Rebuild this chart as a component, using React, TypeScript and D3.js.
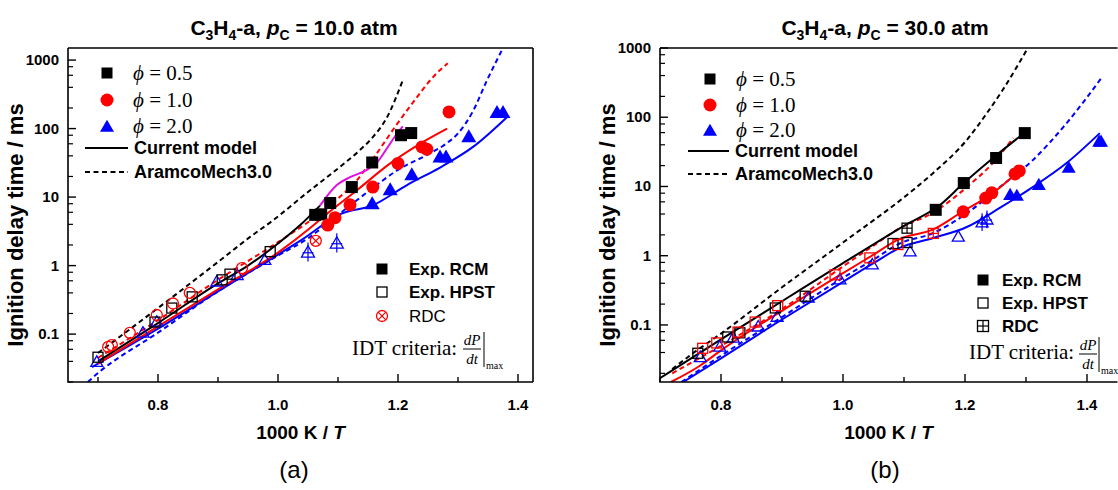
import React from 'react';
import * as d3 from 'd3';

type Pt = [number, number];

const SANS = "'Liberation Sans', Arial, Helvetica, sans-serif";
const SERIF = "'Liberation Serif', 'Times New Roman', serif";

const BLACK = '#000000';
const RED = '#ff0000';
const BLUE = '#0000ff';
const MAGENTA = '#e010e0';

// ---------- shared axis labels ----------
const xTickValues = [0.7, 0.8, 0.9, 1.0, 1.1, 1.2, 1.3, 1.4];
const xTickLabels = ['0.8', '1.0', '1.2', '1.4'];
const yTickLabels = ['0.1', '1', '10', '100', '1000'];
const phiLabels = ['0.5', '1.0', '2.0'];

// ---------- Panel (a): pC = 10.0 atm ----------
const aRcm05: Pt[] = [[1.062, 5.5], [1.072, 5.6], [1.087, 8.2], [1.123, 14], [1.157, 32], [1.205, 80], [1.222, 86]];
const aHpst05: Pt[] = [[0.70, 0.046], [0.795, 0.15], [0.823, 0.24], [0.857, 0.35], [0.907, 0.62], [0.92, 0.75], [0.987, 1.6]];
const aRcm10: Pt[] = [[1.083, 3.9], [1.095, 5.0], [1.12, 7.7], [1.158, 14], [1.2, 31], [1.24, 54], [1.248, 50], [1.285, 175]];
const aHpst10: Pt[] = [[0.717, 0.065], [0.723, 0.069], [0.753, 0.104], [0.798, 0.19], [0.825, 0.28], [0.853, 0.40], [0.94, 0.92]];
const aRdc10: Pt[] = [[1.063, 2.3]];
const aRcm20: Pt[] = [[1.157, 7.9], [1.187, 12.7], [1.223, 21], [1.27, 38], [1.28, 38], [1.318, 75], [1.365, 170], [1.375, 170]];
const aHpst20: Pt[] = [[0.698, 0.039], [0.775, 0.104], [0.798, 0.15], [0.898, 0.58], [0.932, 0.72], [0.978, 1.2]];
const aRdc20: Pt[] = [[1.05, 1.55], [1.098, 2.1]];

const aCur05: Pt[] = [[0.70, 0.040], [0.80, 0.145], [0.90, 0.55], [0.95, 1.0], [1.00, 2.1], [1.037, 3.9], [1.07, 7.5]];
const aMag05: Pt[] = [[1.07, 7.5], [1.098, 15], [1.12, 19.5], [1.148, 25], [1.165, 32], [1.182, 52], [1.198, 84], [1.208, 108]];
const aAr05: Pt[] = [[0.70, 0.053], [0.80, 0.24], [0.90, 1.13], [0.953, 2.6], [0.992, 4.6], [1.048, 11.5], [1.103, 27.5], [1.137, 49], [1.158, 75], [1.182, 148], [1.208, 510]];
const aCur10: Pt[] = [[0.70, 0.037], [0.80, 0.13], [0.90, 0.45], [1.00, 1.55], [1.053, 3.5], [1.075, 5.1], [1.132, 12.7], [1.187, 31], [1.242, 64], [1.282, 100]];
const aAr10: Pt[] = [[0.70, 0.045], [0.80, 0.16], [0.90, 0.62], [1.00, 2.2], [1.05, 4.3], [1.10, 9.5], [1.13, 17], [1.158, 36], [1.198, 115], [1.232, 290], [1.258, 560], [1.283, 900]];
const aCur20: Pt[] = [[0.69, 0.033], [0.80, 0.12], [0.90, 0.42], [1.00, 1.45], [1.04, 2.4], [1.103, 5.6], [1.158, 7.6], [1.215, 15], [1.27, 27], [1.325, 54], [1.382, 148]];
const aAr20: Pt[] = [[0.683, 0.02], [0.70, 0.027], [0.80, 0.105], [0.90, 0.42], [1.00, 1.4], [1.05, 2.5], [1.10, 5.5], [1.15, 12], [1.20, 25], [1.25, 42], [1.28, 60], [1.30, 85], [1.325, 180], [1.348, 500], [1.375, 1500]];

// ---------- Panel (b): pC = 30.0 atm ----------
const bRcm05: Pt[] = [[1.152, 4.6], [1.198, 11.2], [1.251, 25.8], [1.298, 59]];
const bHpst05: Pt[] = [[0.762, 0.039], [0.811, 0.067], [0.831, 0.077], [0.889, 0.176], [0.938, 0.26], [1.082, 1.5], [1.105, 1.55]];
const bRdc05: Pt[] = [[1.105, 2.5]];
const bRcm10: Pt[] = [[1.197, 4.3], [1.234, 6.8], [1.244, 8.1], [1.282, 15.2], [1.289, 16.8]];
const bHpst10: Pt[] = [[0.77, 0.046], [0.793, 0.055], [0.828, 0.079], [0.856, 0.11], [0.893, 0.19], [0.987, 0.53], [1.044, 0.93], [1.09, 1.45]];
const bRdc10: Pt[] = [[1.148, 2.1]];
const bRcm20: Pt[] = [[1.274, 7.5], [1.285, 7.3], [1.321, 10.5], [1.37, 18.5], [1.42, 44], [1.423, 44]];
const bHpst20: Pt[] = [[0.766, 0.034], [0.798, 0.048], [0.82, 0.065], [0.861, 0.094], [0.892, 0.13], [0.943, 0.245], [0.995, 0.45], [1.048, 0.74], [1.11, 1.14], [1.189, 1.87]];
const bRdc20: Pt[] = [[1.228, 3.0], [1.236, 3.3]];

const bCur05: Pt[] = [[0.70, 0.017], [0.733, 0.026], [0.80, 0.062], [0.90, 0.22], [1.00, 0.78], [1.10, 2.7], [1.159, 5.4], [1.197, 11], [1.246, 25.8], [1.293, 55.5]];
const bAr05: Pt[] = [[0.72, 0.023], [0.754, 0.039], [0.80, 0.075], [0.90, 0.35], [1.00, 1.55], [1.115, 8.9], [1.148, 15.7], [1.203, 47], [1.236, 115], [1.262, 249], [1.285, 534], [1.303, 1000]];
const bCur10: Pt[] = [[0.718, 0.015], [0.766, 0.026], [0.80, 0.043], [0.90, 0.16], [1.00, 0.56], [1.044, 0.96], [1.093, 1.75], [1.148, 2.4], [1.195, 4.3], [1.241, 7.5], [1.285, 15.7]];
const bAr10: Pt[] = [[0.72, 0.02], [0.80, 0.05], [0.90, 0.17], [1.00, 0.7], [1.05, 1.4], [1.093, 2.5], [1.148, 4.2], [1.203, 9.8], [1.246, 22], [1.279, 50]];
const bCur20: Pt[] = [[0.738, 0.015], [0.80, 0.033], [0.90, 0.12], [1.00, 0.42], [1.05, 0.78], [1.093, 1.3], [1.148, 1.8], [1.203, 2.6], [1.257, 4.9], [1.311, 9.8], [1.367, 22], [1.421, 59]];
const bAr20: Pt[] = [[0.735, 0.015], [0.80, 0.036], [0.90, 0.13], [1.00, 0.48], [1.05, 0.88], [1.093, 1.5], [1.148, 2.13], [1.203, 4.1], [1.257, 9.8], [1.311, 24], [1.367, 83], [1.425, 383]];

type Shape = 'sq' | 'ci' | 'tr';
type Style = 'fill' | 'open' | 'rdc';

interface MarkSeries { data: Pt[]; color: string; shape: Shape; style: Style; size: number; }
interface LineSeries { data: Pt[]; color: string; dashed: boolean; }

function Marker({ x, y, shape, style, color, size }: { x: number; y: number; shape: Shape; style: Style; color: string; size: number }) {
  const s = size;
  const fill = style === 'fill' ? color : 'none';
  const sw = style === 'fill' ? 0 : 1.3;
  const parts: React.ReactNode[] = [];
  if (shape === 'sq') {
    parts.push(<rect key="s" x={x - s / 2} y={y - s / 2} width={s} height={s} fill={fill} stroke={color} strokeWidth={sw} />);
    if (style === 'rdc') {
      parts.push(<line key="v" x1={x} x2={x} y1={y - s / 2} y2={y + s / 2} stroke={color} strokeWidth={1.2} />);
      parts.push(<line key="h" x1={x - s / 2} x2={x + s / 2} y1={y} y2={y} stroke={color} strokeWidth={1.2} />);
    }
  } else if (shape === 'ci') {
    parts.push(<circle key="c" cx={x} cy={y} r={s / 2} fill={fill} stroke={color} strokeWidth={sw} />);
    if (style === 'rdc') {
      const d = s / 2 * 0.7;
      parts.push(<line key="a" x1={x - d} x2={x + d} y1={y - d} y2={y + d} stroke={color} strokeWidth={1.2} />);
      parts.push(<line key="b" x1={x - d} x2={x + d} y1={y + d} y2={y - d} stroke={color} strokeWidth={1.2} />);
    }
  } else {
    const h = s * 0.87;
    const pts = `${x},${y - h * 0.6} ${x - s / 2},${y + h * 0.4} ${x + s / 2},${y + h * 0.4}`;
    parts.push(<polygon key="t" points={pts} fill={fill} stroke={color} strokeWidth={sw} strokeLinejoin="miter" />);
    if (style === 'rdc') {
      parts.push(<line key="v" x1={x} x2={x} y1={y - h * 0.9} y2={y + h * 0.8} stroke={color} strokeWidth={1.2} />);
      parts.push(<line key="h" x1={x - s * 0.42} x2={x + s * 0.42} y1={y + h * 0.02} y2={y + h * 0.02} stroke={color} strokeWidth={1.2} />);
    }
  }
  return <g>{parts}</g>;
}

interface PanelProps {
  id: string;
  x0: number; x1: number; y0: number; y1: number;
  xDomain: [number, number]; yDomain: [number, number];
  title: string; sub: string; titleX: number;
  lines: LineSeries[];
  marks: MarkSeries[];
  legend1: { sx: number; ys: number[]; tx: number; lx0: number; lx1: number; ly: number[] };
  legend2: { sx: number; ys: number[]; tx: number; rdcBold: boolean; rdc: { shape: Shape; color: string } };
  idt: { x: number; y: number; fx: number; bx: number; fy: number };
  drawRight: boolean;
}

function Panel(p: PanelProps) {
  const xs = d3.scaleLinear().domain(p.xDomain).range([p.x0, p.x1]);
  const ys = d3.scaleLog().domain(p.yDomain).range([p.y1, p.y0]);
  const line = d3.line<Pt>().x(d => xs(d[0])).y(d => ys(d[1])).curve(d3.curveMonotoneX);
  const cx = (p.x0 + Math.min(p.x1, 1117)) / 2;
  const majorY = [0.1, 1, 10, 100, 1000];
  const minorY: number[] = [];
  for (let dec = 0.01; dec <= 1000; dec *= 10) {
    for (const m of [2, 4, 6, 8]) {
      const v = dec * m;
      if (v >= p.yDomain[0] && v <= p.yDomain[1]) minorY.push(v);
    }
  }
  const fw = Math.min(p.x1, 1120) - p.x0;
  return (
    <g>
      <defs>
        <clipPath id={`clip-${p.id}`}>
          <rect x={p.x0} y={p.y0} width={fw} height={p.y1 - p.y0} />
        </clipPath>
      </defs>
      {/* title */}
      <text x={p.titleX} y={35} textAnchor="middle" fontFamily={SANS} fontWeight="bold" fontSize={21}>
        C<tspan dy={5} fontSize={14}>3</tspan><tspan dy={-5}>H</tspan><tspan dy={5} fontSize={14}>4</tspan><tspan dy={-5}>-a, </tspan><tspan fontStyle="italic">p</tspan><tspan dy={5} fontSize={14}>C</tspan><tspan dy={-5}>{` = ${p.title} atm`}</tspan>
      </text>
      {/* lines */}
      <g clipPath={`url(#clip-${p.id})`}>
        {p.lines.map((l, i) => (
          <path key={i} d={line(l.data) || ''} fill="none" stroke={l.color} strokeWidth={2} strokeDasharray={l.dashed ? '5,3.5' : undefined} />
        ))}
      </g>
      {/* markers */}
      {p.marks.map((m, i) => (
        <g key={i}>
          {m.data.map((d, j) => (
            <Marker key={j} x={xs(d[0])} y={ys(d[1])} shape={m.shape} style={m.style} color={m.color} size={m.size} />
          ))}
        </g>
      ))}
      {/* frame */}
      <path d={`M${p.x0},${p.y0}H${p.x0 + fw}M${p.x0},${p.y0}V${p.y1}H${p.x0 + fw}` + (p.drawRight ? `M${p.x1},${p.y0}V${p.y1}` : '')} fill="none" stroke="#000" strokeWidth={1.6} />
      {/* x ticks */}
      {xTickValues.map((v, i) => {
        const major = xTickLabels.includes(v.toFixed(1));
        return <line key={i} x1={xs(v)} x2={xs(v)} y1={p.y1} y2={p.y1 - (major ? 8 : 5)} stroke="#000" strokeWidth={1.4} />;
      })}
      {xTickLabels.map((t, i) => (
        <text key={i} x={xs(+t)} y={410} textAnchor="middle" fontFamily={SANS} fontWeight="bold" fontSize={15}>{t}</text>
      ))}
      <text x={cx} y={439} textAnchor="middle" fontFamily={SANS} fontWeight="bold" fontSize={19}>
        1000 K / <tspan fontStyle="italic">T</tspan>
      </text>
      <text x={p.titleX} y={478} textAnchor="middle" fontFamily={SANS} fontSize={24}>{p.sub}</text>
      {/* y ticks */}
      {majorY.map((v, i) => (
        <g key={i}>
          <line x1={p.x0} x2={p.x0 + 8} y1={ys(v)} y2={ys(v)} stroke="#000" strokeWidth={1.4} />
          <text x={p.x0 - 9} y={ys(v) + 5} textAnchor="end" fontFamily={SANS} fontWeight="bold" fontSize={15}>{yTickLabels[i]}</text>
        </g>
      ))}
      {minorY.map((v, i) => (
        <line key={i} x1={p.x0} x2={p.x0 + 5} y1={ys(v)} y2={ys(v)} stroke="#000" strokeWidth={1.2} />
      ))}
      <text transform={`translate(${p.x0 - 45},${(p.y0 + p.y1) / 2 + 10}) rotate(-90)`} textAnchor="middle" fontFamily={SANS} fontWeight="bold" fontSize={22}>
        Ignition delay time / ms
      </text>
      {/* legend 1 */}
      <Marker x={p.legend1.sx} y={p.legend1.ys[0]} shape="sq" style="fill" color={BLACK} size={11} />
      <Marker x={p.legend1.sx} y={p.legend1.ys[1]} shape="ci" style="fill" color={RED} size={13} />
      <Marker x={p.legend1.sx} y={p.legend1.ys[2] + 1} shape="tr" style="fill" color={BLUE} size={14} />
      {phiLabels.map((t, i) => (
        <text key={i} x={p.legend1.tx} y={p.legend1.ys[i] + 7} fontFamily={SERIF} fontSize={21}>
          <tspan fontStyle="italic">{'\u03D5'}</tspan>{` = ${t}`}
        </text>
      ))}
      <line x1={p.legend1.lx0} x2={p.legend1.lx1} y1={p.legend1.ly[0]} y2={p.legend1.ly[0]} stroke="#000" strokeWidth={2} />
      <line x1={p.legend1.lx0} x2={p.legend1.lx1} y1={p.legend1.ly[1]} y2={p.legend1.ly[1]} stroke="#000" strokeWidth={2} strokeDasharray="5,3.5" />
      <text x={p.legend1.lx1 + 6} y={p.legend1.ly[0] + 6} fontFamily={SANS} fontWeight="bold" fontSize={18}>Current model</text>
      <text x={p.legend1.lx1 + 6} y={p.legend1.ly[1] + 6} fontFamily={SANS} fontWeight="bold" fontSize={18}>AramcoMech3.0</text>
      {/* legend 2 */}
      <Marker x={p.legend2.sx} y={p.legend2.ys[0]} shape="sq" style="fill" color={BLACK} size={11} />
      <Marker x={p.legend2.sx} y={p.legend2.ys[1]} shape="sq" style="open" color={BLACK} size={10} />
      <Marker x={p.legend2.sx} y={p.legend2.ys[2]} shape={p.legend2.rdc.shape} style="rdc" color={p.legend2.rdc.color} size={11} />
      <text x={p.legend2.tx} y={p.legend2.ys[0] + 6} fontFamily={SANS} fontWeight="bold" fontSize={17}>Exp. RCM</text>
      <text x={p.legend2.tx} y={p.legend2.ys[1] + 6} fontFamily={SANS} fontWeight="bold" fontSize={17}>Exp. HPST</text>
      <text x={p.legend2.tx} y={p.legend2.ys[2] + 6} fontFamily={SANS} fontWeight={p.legend2.rdcBold ? 'bold' : 'normal'} fontSize={17}>RDC</text>
      {/* IDT criteria */}
      <text x={p.idt.x} y={p.idt.y} fontFamily={SERIF} fontSize={21}>IDT criteria:</text>
      <text x={p.idt.fx} y={p.idt.fy - 4} textAnchor="middle" fontFamily={SERIF} fontStyle="italic" fontSize={15}>dP</text>
      <line x1={p.idt.fx - 9} x2={p.idt.fx + 9} y1={p.idt.fy} y2={p.idt.fy} stroke="#000" strokeWidth={1} />
      <text x={p.idt.fx} y={p.idt.fy + 15} textAnchor="middle" fontFamily={SERIF} fontStyle="italic" fontSize={15}>dt</text>
      <line x1={p.idt.bx} x2={p.idt.bx} y1={p.idt.fy - 17} y2={p.idt.fy + 18} stroke="#000" strokeWidth={1} />
      <text x={p.idt.bx + 2} y={p.idt.fy + 20} fontFamily={SERIF} fontSize={10}>max</text>
    </g>
  );
}

export default function App() {
  const panelA: PanelProps = {
    id: 'a', x0: 68, x1: 533, y0: 48, y1: 382,
    xDomain: [0.65, 1.425], yDomain: [0.02, 1500],
    title: '10.0', sub: '(a)', titleX: 294,
    lines: [
      { data: aAr05, color: BLACK, dashed: true },
      { data: aAr10, color: RED, dashed: true },
      { data: aAr20, color: BLUE, dashed: true },
      { data: aCur20, color: BLUE, dashed: false },
      { data: aCur10, color: RED, dashed: false },
      { data: aCur05, color: BLACK, dashed: false },
      { data: aMag05, color: MAGENTA, dashed: false },
    ],
    marks: [
      { data: aHpst20, color: BLUE, shape: 'tr', style: 'open', size: 12 },
      { data: aHpst05, color: BLACK, shape: 'sq', style: 'open', size: 10 },
      { data: aHpst10, color: RED, shape: 'ci', style: 'open', size: 11 },
      { data: aRdc20, color: BLUE, shape: 'tr', style: 'rdc', size: 13 },
      { data: aRdc10, color: RED, shape: 'ci', style: 'rdc', size: 11 },
      { data: aRcm05, color: BLACK, shape: 'sq', style: 'fill', size: 12 },
      { data: aRcm10, color: RED, shape: 'ci', style: 'fill', size: 13 },
      { data: aRcm20, color: BLUE, shape: 'tr', style: 'fill', size: 15 },
    ],
    legend1: { sx: 107, ys: [73, 100, 126], tx: 133, lx0: 85, lx1: 128, ly: [148, 172] },
    legend2: { sx: 382, ys: [269, 292, 316], tx: 409, rdcBold: false, rdc: { shape: 'ci', color: RED } },
    idt: { x: 352, y: 355, fx: 472, bx: 484, fy: 349 },
    drawRight: true,
  };
  const panelB: PanelProps = {
    id: 'b', x0: 660, x1: 1117.5, y0: 48, y1: 382,
    xDomain: [0.7, 1.45], yDomain: [0.015, 1000],
    title: '30.0', sub: '(b)', titleX: 885,
    lines: [
      { data: bAr05, color: BLACK, dashed: true },
      { data: bAr10, color: RED, dashed: true },
      { data: bAr20, color: BLUE, dashed: true },
      { data: bCur20, color: BLUE, dashed: false },
      { data: bCur10, color: RED, dashed: false },
      { data: bCur05, color: BLACK, dashed: false },
    ],
    marks: [
      { data: bHpst20, color: BLUE, shape: 'tr', style: 'open', size: 12 },
      { data: bHpst05, color: BLACK, shape: 'sq', style: 'open', size: 10 },
      { data: bHpst10, color: RED, shape: 'sq', style: 'open', size: 10 },
      { data: bRdc20, color: BLUE, shape: 'tr', style: 'rdc', size: 12 },
      { data: bRdc05, color: BLACK, shape: 'sq', style: 'rdc', size: 10 },
      { data: bRdc10, color: RED, shape: 'sq', style: 'rdc', size: 10 },
      { data: bRcm05, color: BLACK, shape: 'sq', style: 'fill', size: 12 },
      { data: bRcm10, color: RED, shape: 'ci', style: 'fill', size: 13 },
      { data: bRcm20, color: BLUE, shape: 'tr', style: 'fill', size: 14 },
    ],
    legend1: { sx: 710, ys: [79, 105, 130], tx: 736, lx0: 688, lx1: 729, ly: [151, 174] },
    legend2: { sx: 983, ys: [280, 303, 326], tx: 1002, rdcBold: true, rdc: { shape: 'sq', color: BLACK } },
    idt: { x: 969, y: 359, fx: 1088, bx: 1099, fy: 354 },
    drawRight: false,
  };
  return (
    <div style={{ position: 'absolute', left: 0, top: 0 }}>
      <svg width={1118} height={490} viewBox="0 0 1118 490" style={{ display: 'block', background: '#fff' }}>
        <rect x={0} y={0} width={1118} height={490} fill="#fff" />
        <Panel {...panelA} />
        <Panel {...panelB} />
      </svg>
    </div>
  );
}
